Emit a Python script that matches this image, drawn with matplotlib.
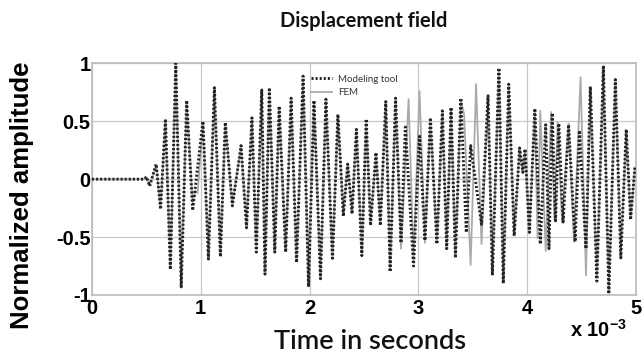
import matplotlib
matplotlib.use('Agg')
import matplotlib.pyplot as plt

# Extrema (time in ms, normalized amplitude)
t_model = [0, 0.48, 0.50, 0.53, 0.59, 0.63, 0.675, 0.72, 0.77, 0.82, 0.87, 0.925,
           1.02, 1.07, 1.125, 1.18, 1.225, 1.29, 1.37, 1.42, 1.47, 1.51, 1.56, 1.59,
           1.63, 1.68, 1.72, 1.78, 1.83, 1.88, 1.94, 1.99, 2.04, 2.10, 2.15, 2.21,
           2.26, 2.31, 2.35, 2.39, 2.43, 2.48, 2.52, 2.56, 2.61, 2.65, 2.70, 2.74,
           2.79, 2.84, 2.88, 2.955, 3.01, 3.06, 3.11, 3.17, 3.22, 3.26, 3.30, 3.34,
           3.39, 3.44, 3.48, 3.58, 3.64, 3.68, 3.74, 3.78, 3.83, 3.88,
           3.93, 3.96, 3.98, 4.02, 4.07, 4.12, 4.17, 4.20, 4.23, 4.26, 4.29, 4.33,
           4.38, 4.44, 4.48, 4.54, 4.58, 4.64, 4.70, 4.75, 4.81, 4.86, 4.91, 4.95, 4.99]
a_model = [0, 0, 0.02, -0.06, 0.13, -0.26, 0.52, -0.78, 1.0, -0.93, 0.68, -0.27,
           0.50, -0.69, 0.79, -0.67, 0.49, -0.23, 0.29, -0.42, 0.53, -0.63, 0.77, -0.82,
           0.79, -0.63, 0.63, -0.63, 0.70, -0.72, 0.89, -0.93, 0.68, -0.86, 0.69, -0.70,
           0.56, -0.32, 0.13, -0.30, 0.43, -0.66, 0.52, -0.40, 0.23, -0.40, 0.67, -0.80,
           0.70, -0.55, 0.45, -0.75, 0.37, -0.53, 0.53, -0.56, 0.59, -0.60, 0.62, -0.68,
           0.70, -0.46, 0.29, -0.39, 0.72, -0.83, 0.96, -0.90, 0.82, -0.49,
           0.27, 0.06, 0.26, -0.46, 0.61, -0.56, 0.47, -0.60, 0.57, -0.36, 0.48, -0.37,
           0.47, -0.54, 0.42, -0.60, 0.80, -0.88, 0.98, -0.99, 0.86, -0.68, 0.43, -0.35, 0.11]

t_fem = [0, 0.48, 0.50, 0.53, 0.59, 0.63, 0.675, 0.72, 0.77, 0.82, 0.87, 0.925, 0.95,
         0.97, 1.02, 1.07, 1.125, 1.18, 1.225, 1.29, 1.37, 1.42, 1.47, 1.51, 1.56, 1.59,
         1.63, 1.68, 1.72, 1.78, 1.83, 1.88, 1.94, 1.99, 2.04, 2.10, 2.15, 2.21,
         2.26, 2.31, 2.35, 2.39, 2.43, 2.48, 2.52, 2.56, 2.61, 2.65, 2.70, 2.74,
         2.79, 2.84, 2.91, 2.955, 3.01, 3.06, 3.11, 3.17, 3.22, 3.26, 3.30, 3.34,
         3.39, 3.42, 3.48, 3.53, 3.58, 3.64, 3.68, 3.74, 3.78, 3.83, 3.88,
         3.93, 3.96, 3.98, 4.02, 4.07, 4.095, 4.12, 4.17, 4.22, 4.25, 4.28, 4.32,
         4.38, 4.43, 4.49, 4.54, 4.58, 4.64, 4.70, 4.75, 4.81, 4.86, 4.91, 4.95, 4.99]
a_fem = [0, 0, 0.02, -0.05, 0.12, -0.24, 0.50, -0.76, 0.98, -0.90, 0.66, -0.20, -0.10,
         -0.12, 0.48, -0.66, 0.77, -0.65, 0.47, -0.22, 0.28, -0.40, 0.52, -0.61, 0.75, -0.80,
         0.77, -0.61, 0.62, -0.62, 0.68, -0.70, 0.86, -0.90, 0.66, -0.84, 0.67, -0.68,
         0.55, -0.30, 0.12, -0.28, 0.42, -0.64, 0.50, -0.38, 0.22, -0.38, 0.65, -0.78,
         0.68, -0.60, 0.69, -0.70, 0.76, -0.55, 0.52, -0.55, 0.57, -0.58, 0.60, -0.66,
         0.68, 0.56, -0.74, 0.82, -0.56, 0.70, -0.80, 0.94, -0.88, 0.80, -0.48,
         0.26, 0.05, 0.25, -0.45, 0.59, -0.51, 0.59, -0.62, 0.58, -0.35, 0.49, -0.37,
         0.48, -0.54, 0.88, -0.83, 0.78, -0.85, 0.95, -0.96, 0.84, -0.66, 0.42, -0.34, 0.10]

x_ticks = [0, 1, 2, 3, 4, 5]
y_ticks = [-1, -0.5, 0, 0.5, 1]
y_ticklabels = ['-1', '-0.5', '0', '0.5', '1']

fig = plt.figure(figsize=(6.42, 3.58), dpi=100)
ax = fig.add_axes([0.1433, 0.176, 0.8474, 0.647])

ax.plot(t_fem, a_fem, color='#aaaaaa', lw=1.3, label='FEM', zorder=2)
ax.plot(t_model, a_model, color='#222222', lw=2.1, linestyle=(0, (0.7, 0.7)),
        label='Modeling tool', zorder=3)

ax.set_xlim(0, 5)
ax.set_ylim(-1, 1)
ax.set_xticks(x_ticks)
ax.set_xticklabels([str(v) for v in x_ticks], fontsize=14.5, fontweight='bold',
                   family='Liberation Sans')
ax.set_yticks(y_ticks)
ax.set_yticklabels(y_ticklabels, fontsize=14.5, fontweight='bold', family='Liberation Sans')
ax.tick_params(axis='y', length=0, pad=1)
ax.tick_params(axis='x', length=0, pad=3)
ax.grid(True, color='#c8c8c8', lw=0.9)
for s in ax.spines.values():
    s.set_color('#bbbbbb')
    s.set_linewidth(1.2)

fig.text(0.567, 0.942, 'Displacement field', fontsize=14.5, family='Lato',
         fontweight='bold', ha='center', va='center', color='#111111')
ax.set_ylabel('Normalized amplitude', fontsize=18.5, fontweight='bold',
              family='Liberation Sans')
ax.yaxis.set_label_coords(-0.128, 0.43)
ax.yaxis.label.set_va('center')
ax.set_xlabel('Time in seconds', fontsize=19.5, family='Lato', fontweight='semibold',
              color='#111111')
ax.xaxis.set_label_coords(0.512, -0.2)
ax.xaxis.label.set_va('center')
fig.text(0.888, 0.08, r'x 10$^{\mathregular{-3}}$', fontsize=14.5, fontweight='bold',
         family='Liberation Sans', va='center')

h, l = ax.get_legend_handles_labels()
ax.legend(h[::-1], l[::-1], loc='upper left', bbox_to_anchor=(0.39, 0.98), frameon=False,
          prop={'family': 'Lato', 'size': 7}, handlelength=2.2, handletextpad=0.6,
          borderpad=0.2, labelspacing=0.45, labelcolor='#333333')

fig.savefig('out.png', dpi=100)
